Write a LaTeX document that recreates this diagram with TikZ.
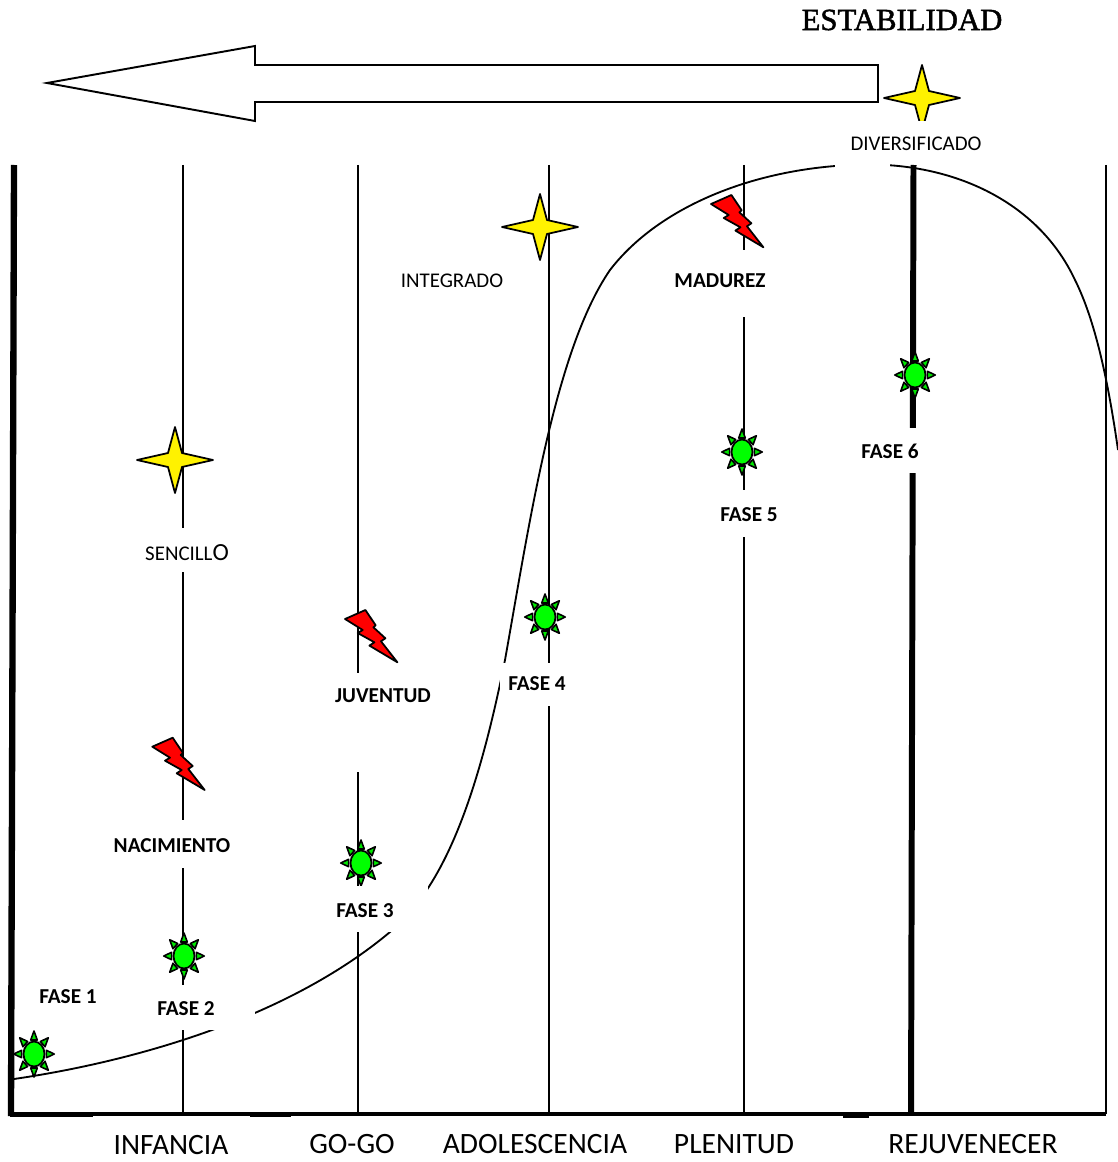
\documentclass[tikz,border=0pt]{standalone}
\usepackage{fontspec}
\setmainfont{Carlito}
\newfontfamily\titlefont[FakeBold=1.5]{Liberation Serif}
\tikzset{
  stagelabel/.style={font=\fontsize{16.8}{18}\selectfont,inner sep=0pt},
  phaselabel/.style={font=\fontsize{12.1}{14}\selectfont\bfseries,inner sep=0pt},
  typelabel/.style={font=\fontsize{11.9}{14}\selectfont,inner sep=0pt},
  mask/.style={fill=white,draw=none},
  thinline/.style={line width=1.05pt},
  thickline/.style={line width=3.4pt}
}
\newcommand\SunMark[2]{
  \begin{scope}[shift={(#1,#2)}]
  \foreach \a in {0,45,...,315}
  {
    \filldraw[fill=green!90!black,line width=0.9pt,line join=round,xscale=0.88] (\a-15:14.5) -- (\a:23) -- (\a+15:14.5) -- cycle;
  }
  \filldraw[fill=green,line width=1pt] (0,0) ellipse [x radius=10.5, y radius=12.5];
  \end{scope}
}
\newcommand\StarMark[2]{
  \filldraw[fill=yellow,line width=1pt,line join=round] (#1,#2) ++(-38,0) -- ++(31,-7) -- ++(7,-26) -- ++(7,26)
    -- ++(31,7) -- ++(-31,7) -- ++(-7,26) -- ++(-7,-26) -- cycle;
}
\newcommand\BoltMark[2]{
  \filldraw[fill=red,line width=1pt,line join=round] (#1,#2) ++(0,9) -- ++(20.4,-9) -- ++(10.3,15.3) -- ++(-2.3,2)
    -- ++(12,11) -- ++(-4.4,3) -- ++(16.4,21) -- ++(-28,-16.7) -- ++(5,-3.3) -- ++(-16.7,-9.3) -- ++(5,-3) -- cycle;
}
\begin{document}
\begin{tikzpicture}[x=0.02cm, y=-0.02cm]
\useasboundingbox (0,0) rectangle (1118,1162);

% frame and stage lines
\draw[thickline,line width=3.6pt] (14,165) -- (11,1116);
\draw[thickline] (913.5,165) -- (911,1114);
\foreach \x in {183,358,549,744,1106}
{
  \draw[thinline] (\x,165) -- (\x,1114);
}
\draw[line width=1.9pt] (10,1114) -- (1106,1114);
\draw[line width=2.8pt] (10,1115) -- (93,1115);
\draw[line width=2.8pt] (250,1115) -- (291,1115);
\draw[line width=2.8pt] (843,1116) -- (869,1116);

% curve
\draw[thinline] (14,1079) .. controls (130,1062) and (285,1020) .. (390,932)
  .. controls (440,890) and (475,810) .. (505,660)
  .. controls (530,520) and (555,350) .. (610,270)
  .. controls (660,205) and (760,165) .. (870,164.5)
  .. controls (960,165) and (1040,205) .. (1075,280)
  .. controls (1095,320) and (1108,380) .. (1118,450);

% arrow
\draw[line width=1.1pt,fill=white] (47,83) -- (255,46) -- (255,65) -- (878,65) -- (878,102)
  -- (255,102) -- (255,121) -- cycle;

\StarMark{922}{98}
\StarMark{540}{227}
\StarMark{175}{460}

\SunMark{34}{1054}
\SunMark{184}{956}
\SunMark{361}{863}
\SunMark{545}{617}
\SunMark{742}{452}
\SunMark{915}{375}

\BoltMark{152.3}{737.7}
\BoltMark{345}{610}
\BoltMark{711}{195}

% white boxes behind the texts
\fill[mask] (155,985) rectangle (255,1030);
\fill[mask] (330,886) rectangle (428,932);
\fill[mask] (500,663) rectangle (575,706);
\fill[mask] (715,490) rectangle (785,537);
\fill[mask] (860,428) rectangle (925,473);
\fill[mask] (670,250) rectangle (770,317);
\fill[mask] (330,673) rectangle (435,772);
\fill[mask] (110,820) rectangle (235,868);
\fill[mask] (145,528) rectangle (232,572);
\fill[mask] (835,121) rectangle (985,163.5);
\fill[mask] (835,160) rectangle (890,168);

\node[phaselabel] (fase1) at (68,997) {FASE 1};
\node[phaselabel] (fase2) at (186,1009) {FASE 2};
\node[phaselabel] (fase3) at (365,911) {FASE 3};
\node[phaselabel] (fase4) at (537,684) {FASE 4};
\node[phaselabel] (fase5) at (749,515) {FASE 5};
\node[phaselabel] (fase6) at (890,451) {FASE 6};
\node[phaselabel] (nacimiento) at (172,846) {NACIMIENTO};
\node[phaselabel] (juventud) at (383,696) {JUVENTUD};
\node[phaselabel] (madurez) at (720,281) {MADUREZ};

\node[typelabel] (sencillo) at (187,553) {SENCILL{\fontsize{14}{14}\selectfont O}};
\node[typelabel] (integrado) at (452,281) {INTEGRADO};
\node[typelabel] (diversificado) at (916,144) {DIVERSIFICADO};

\node[stagelabel] (infancia) at (171,1145) {INFANCIA};
\node[stagelabel] (gogo) at (352,1144) {GO-GO};
\node[stagelabel] (adolescencia) at (535,1144) {ADOLESCENCIA};
\node[stagelabel] (plenitud) at (734,1144) {PLENITUD};
\node[stagelabel] (rejuvenecer) at (973,1144) {REJUVENECER};

\node[inner sep=0pt,font=\titlefont\fontsize{17.5}{20}\selectfont] (estabilidad) at (902,20) {ESTABILIDAD};
\end{tikzpicture}
\end{document}
